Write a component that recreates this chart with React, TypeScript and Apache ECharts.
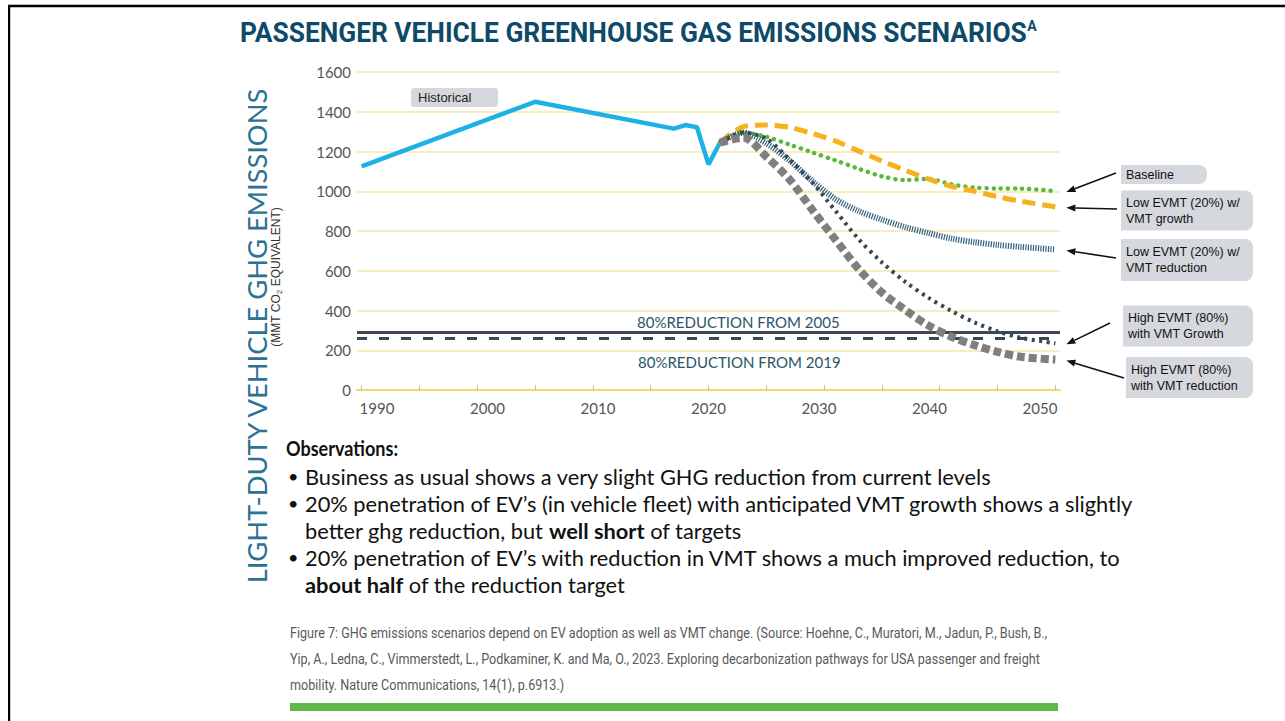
import React, { useEffect, useRef } from "react";
import * as echarts from "echarts";

// ---------- DATA ----------
const HIST_YEARS = [1990, 2005, 2017, 2018, 2019, 2020, 2021];
const HIST_VALUES = [1125, 1450, 1315, 1333, 1322, 1135, 1245];

const BASE_YEARS = [2021, 2023, 2025, 2027, 2029, 2031, 2033, 2035, 2037, 2039, 2041, 2043, 2045, 2047, 2050];
const BASE_VALUES = [1245, 1294, 1274, 1235, 1195, 1155, 1113, 1075, 1056, 1062, 1035, 1018, 1014, 1013, 1001];

const LOW_GROWTH_YEARS = [2021, 2023, 2025, 2027, 2029, 2031, 2033, 2035, 2037, 2039, 2041, 2043, 2045, 2047, 2050];
const LOW_GROWTH_VALUES = [1245, 1325, 1333, 1322, 1290, 1252, 1202, 1152, 1106, 1062, 1025, 1000, 973, 950, 922];

const LOW_RED_YEARS = [2021, 2023, 2025, 2027, 2029, 2031, 2033, 2035, 2037, 2039, 2041, 2043, 2045, 2047, 2050];
const LOW_RED_VALUES = [1245, 1295, 1241, 1155, 1050, 960, 900, 857, 820, 790, 762, 744, 730, 720, 707];

const HIGH_GROWTH_YEARS = [2021, 2023, 2025, 2027, 2029, 2031, 2033, 2035, 2037, 2039, 2041, 2043, 2045, 2047, 2050];
const HIGH_GROWTH_VALUES = [1245, 1295, 1265, 1160, 1042, 900, 758, 642, 545, 465, 398, 340, 295, 263, 235];

const HIGH_RED_YEARS = [2021, 2023, 2025, 2027, 2029, 2031, 2033, 2035, 2037, 2039, 2041, 2043, 2045, 2047, 2050];
const HIGH_RED_VALUES = [1245, 1270, 1174, 1060, 905, 755, 608, 490, 403, 325, 268, 226, 192, 167, 153];

const TARGET_2005 = 290;
const TARGET_2019 = 262;

const X_LABEL_YEARS = [1990, 2000, 2010, 2020, 2030, 2040, 2050];
const X_TICK_YEARS = [1990, 1995, 2000, 2005, 2010, 2015, 2020, 2025, 2030, 2035, 2040, 2045, 2050];

const SCENARIO_LABELS = [
  "Baseline",
  "Low EVMT (20%) w/\nVMT growth",
  "Low EVMT (20%) w/\nVMT reduction",
  "High EVMT (80%)\nwith VMT Growth",
  "High EVMT (80%)\nwith VMT reduction",
];

const TITLE = "PASSENGER VEHICLE GREENHOUSE GAS EMISSIONS SCENARIOS";
const Y_TITLE = "LIGHT-DUTY VEHICLE GHG EMISSIONS";
const TARGET_LABELS = ["80%REDUCTION FROM 2005", "80%REDUCTION FROM 2019"];

const CAPTION = [
  "Figure 7: GHG emissions scenarios depend on EV adoption as well as VMT change. (Source: Hoehne, C., Muratori, M., Jadun, P., Bush, B.,",
  "Yip, A., Ledna, C., Vimmerstedt, L., Podkaminer, K. and Ma, O., 2023. Exploring decarbonization pathways for USA passenger and freight",
  "mobility. Nature Communications, 14(1), p.6913.)",
];

const zip = (xs: number[], ys: number[]) => xs.map((x, i) => [x, ys[i]]);

const FONT = "Lato, 'Open Sans', sans-serif";
const CALLOUT_FONT = "'Liberation Sans', Arial, sans-serif";

export default function App() {
  const ref = useRef<HTMLDivElement>(null);

  useEffect(() => {
    if (!ref.current) return;
    const chart = echarts.init(ref.current, undefined, { renderer: "svg" });

    const scenarios = [
      { name: SCENARIO_LABELS[0], years: BASE_YEARS, values: BASE_VALUES,
        lineStyle: { color: "#5cb83a", width: 4.5, type: [0.1, 7], cap: "round" } },
      { name: SCENARIO_LABELS[1], years: LOW_GROWTH_YEARS, values: LOW_GROWTH_VALUES,
        lineStyle: { color: "#f5b21c", width: 5, type: [13, 7], cap: "butt" } },
      { name: SCENARIO_LABELS[2], years: LOW_RED_YEARS, values: LOW_RED_VALUES,
        lineStyle: { color: "#33607e", width: 6, type: [1.2, 1.3], cap: "butt" } },
      { name: SCENARIO_LABELS[3], years: HIGH_GROWTH_YEARS, values: HIGH_GROWTH_VALUES,
        lineStyle: { color: "#3a4552", width: 4, type: [3, 4.5], cap: "butt" } },
      { name: SCENARIO_LABELS[4], years: HIGH_RED_YEARS, values: HIGH_RED_VALUES,
        lineStyle: { color: "#7f7f7f", width: 8, type: [8, 4], cap: "butt" } },
    ];

    const option: any = {
      animation: false,
      backgroundColor: "#ffffff",
      grid: { left: 357, top: 72, width: 703, height: 318, containLabel: false },
      xAxis: [
        {
          type: "value",
          min: 1989.6,
          max: 2050.4,
          axisLine: { show: true, lineStyle: { color: "#f0d873", width: 2 } },
          axisTick: {
            show: true, inside: true, length: 5,
            customValues: X_TICK_YEARS,
            lineStyle: { color: "#cdbf8c", width: 1 },
          },
          axisLabel: { show: false },
          splitLine: { show: false },
        },
        {
          type: "value",
          position: "bottom",
          min: 1988.19,
          max: 2051.81,
          axisLine: { show: false },
          axisTick: { show: false },
          splitLine: { show: false },
          axisLabel: {
            show: true,
            customValues: X_LABEL_YEARS,
            margin: 10,
            fontSize: 15,
            fontFamily: FONT,
            color: "#555555",
            formatter: (v: number) => String(v),
          },
        },
      ],
      yAxis: {
        type: "value",
        min: 0,
        max: 1600,
        interval: 200,
        axisLine: { show: false },
        axisTick: { show: false },
        axisLabel: {
          margin: 6, fontSize: 15, fontFamily: FONT, color: "#555555",
          formatter: (v: number) => String(v),
        },
        splitLine: { show: true, lineStyle: { color: "#f6e7a6", width: 1.5 } },
      },
      series: [
        {
          type: "line",
          name: "Historical",
          data: zip(HIST_YEARS, HIST_VALUES),
          symbol: "none",
          lineStyle: { color: "#1db1e4", width: 4.5 },
          z: 2,
          markLine: {
            silent: true,
            symbol: ["none", "none"],
            label: { show: false },
            data: [
              { yAxis: TARGET_2005, lineStyle: { color: "#3e4852", width: 3, type: "solid" } },
              { yAxis: TARGET_2019, lineStyle: { color: "#3e4852", width: 3, type: [10, 12] } },
            ],
          },
        },
        ...scenarios.map((s, i) => ({
          type: "line",
          name: s.name,
          data: zip(s.years, s.values),
          symbol: "none",
          smooth: 0.3,
          lineStyle: s.lineStyle,
          z: 3 + i,
        })),
      ],
    };

    chart.setOption(option);

    // ---------- annotations ----------
    const g: any[] = [];
    // slide frame
    g.push({ id: "frameTopGrey", type: "rect", shape: { x: 8, y: 4, width: 1277, height: 1 }, style: { fill: "#bbbbbb" }, silent: true });
    g.push({ id: "frameTop", type: "rect", shape: { x: 8, y: 5, width: 1277, height: 2.2 }, style: { fill: "#000000" }, silent: true });
    g.push({ id: "frameLeft", type: "rect", shape: { x: 8, y: 5, width: 2.2, height: 716 }, style: { fill: "#000000" }, silent: true });

    // title
    g.push({
      id: "title", type: "text", x: 240, y: 33, scaleX: 0.94,
      style: {
        text: `{t|${TITLE}}{s|A}`,
        textVerticalAlign: "middle",
        rich: {
          t: { fontSize: 28, fontWeight: "bold", fontFamily: "Roboto, sans-serif", fill: "#0d4a68" },
          s: { fontSize: 15, fontWeight: "bold", fontFamily: "Roboto, sans-serif", fill: "#0d4a68", verticalAlign: "top" },
        },
      },
    });

    // y-axis titles
    g.push({
      id: "ytitle", type: "text", x: 257, y: 336, rotation: Math.PI / 2, scaleX: 1.05,
      style: {
        text: Y_TITLE, fontSize: 26, fontWeight: "normal", fontFamily: FONT, fill: "#2c7292",
        textAlign: "center", textVerticalAlign: "middle",
      },
    });
    g.push({
      id: "ysub", type: "text", x: 276, y: 277, rotation: Math.PI / 2,
      style: {
        text: "(MMT CO{sub|2} EQUIVALENT)",
        fontSize: 12, fontFamily: CALLOUT_FONT, fill: "#333333",
        textAlign: "center", textVerticalAlign: "middle",
        rich: { sub: { fontSize: 8, fontFamily: CALLOUT_FONT, fill: "#333333", verticalAlign: "bottom", padding: [6, 0, 0, 0] } },
      },
    });

    // Historical label
    g.push({ id: "histBox", type: "rect", shape: { x: 411, y: 88, width: 87, height: 19, r: 3 }, style: { fill: "#d5d8dc" } });
    g.push({
      id: "histText", type: "text", x: 418, y: 97.5,
      style: { text: "Historical", fontSize: 13, fontFamily: CALLOUT_FONT, fill: "#222222", textVerticalAlign: "middle" },
    });

    // target labels
    g.push({
      id: "t2005", type: "text", x: 637, y: 322,
      style: { text: TARGET_LABELS[0], fontSize: 15, fontFamily: FONT, fill: "#2b5466", textVerticalAlign: "middle" },
    });
    g.push({
      id: "t2019", type: "text", x: 638, y: 362,
      style: { text: TARGET_LABELS[1], fontSize: 15, fontFamily: FONT, fill: "#2b5466", textVerticalAlign: "middle" },
    });

    // callout boxes
    const boxes = [
      { x: 1121, y: 165, w: 86, h: 19, tail: [1116, 173] },
      { x: 1121, y: 190.5, w: 132, h: 40, tail: [1117, 209] },
      { x: 1121, y: 239, w: 132, h: 42, tail: [1116, 258] },
      { x: 1123, y: 305.5, w: 130, h: 41, tail: [1110, 323] },
      { x: 1126, y: 357, w: 127, h: 41, tail: [1124, 378] },
    ];
    boxes.forEach((b, i) => {
      g.push({ id: `box${i}`, type: "rect", shape: { x: b.x, y: b.y, width: b.w, height: b.h, r: [0, 8, 8, 0] }, style: { fill: "#d5d8dc" } });
      g.push({
        id: `boxText${i}`, type: "text", x: b.x + 5, y: b.y + b.h / 2,
        style: {
          text: SCENARIO_LABELS[i], fontSize: 12.5, lineHeight: 16, fontFamily: CALLOUT_FONT,
          fill: "#111111", textVerticalAlign: "middle",
        },
      });
      const s = scenarios[i];
      const last = [s.years[s.years.length - 1], s.values[s.values.length - 1]];
      const p = chart.convertToPixel({ xAxisIndex: 0, yAxisIndex: 0 }, last) as number[];
      const head = [p[0] + 11, p[1] + 1];
      const dx = b.tail[0] - head[0];
      const dy = b.tail[1] - head[1];
      const len = Math.sqrt(dx * dx + dy * dy);
      const ux = dx / len, uy = dy / len;
      const bx = head[0] + ux * 9, by = head[1] + uy * 9;
      g.push({
        id: `arrowLine${i}`, type: "line",
        shape: { x1: b.tail[0], y1: b.tail[1], x2: bx, y2: by },
        style: { stroke: "#111111", lineWidth: 1.6 },
      });
      g.push({
        id: `arrowHead${i}`, type: "polygon",
        shape: { points: [head, [bx - uy * 3.5, by + ux * 3.5], [bx + uy * 3.5, by - ux * 3.5]] },
        style: { fill: "#111111" },
      });
    });

    // observations
    const OBS_FONT = FONT;
    const OBS_SIZE = 21.8;
    g.push({
      id: "obsTitle", type: "text", x: 286, y: 448, scaleX: 0.86,
      style: { text: "Observations:", fontSize: 21, fontWeight: "bold", fontFamily: OBS_FONT, fill: "#111111", textVerticalAlign: "middle" },
    });
    const obsLines = [
      { bullet: true, text: "Business as usual shows a very slight GHG reduction from current levels" },
      { bullet: true, text: "20% penetration of EV\u2019s (in vehicle fleet) with anticipated VMT growth shows a slightly" },
      { bullet: false, text: "better ghg reduction, but {b|well short} of targets" },
      { bullet: true, text: "20% penetration of EV\u2019s with reduction in VMT shows a much improved reduction, to" },
      { bullet: false, text: "{b|about half} of the reduction target" },
    ];
    obsLines.forEach((l, i) => {
      const y = 476 + i * 27;
      if (l.bullet) {
        g.push({
          id: `bul${i}`, type: "text", x: 288, y,
          style: { text: "\u2022", fontSize: 18, fontFamily: OBS_FONT, fill: "#111111", textVerticalAlign: "middle" },
        });
      }
      g.push({
        id: `obs${i}`, type: "text", x: 305, y,
        style: {
          text: l.text, fontSize: OBS_SIZE, fontFamily: OBS_FONT, fill: "#111111", textVerticalAlign: "middle",
          rich: { b: { fontSize: OBS_SIZE, fontWeight: "bold", fontFamily: OBS_FONT, fill: "#111111" } },
        },
      });
    });

    // caption
    CAPTION.forEach((c, i) => {
      g.push({
        id: `cap${i}`, type: "text", x: 290, y: 633 + i * 26, scaleX: 0.9,
        style: { text: c, fontSize: 14, fontFamily: "Roboto, sans-serif", fill: "#5a5a5a", textVerticalAlign: "middle" },
      });
    });
    g.push({ id: "greenBar", type: "rect", shape: { x: 290, y: 703, width: 768, height: 8 }, style: { fill: "#62b846" } });

    chart.setOption({ graphic: g });

    return () => chart.dispose();
  }, []);

  return (
    <div
      ref={ref}
      style={{ position: "absolute", left: 0, top: 0, width: 1285, height: 721, background: "#ffffff" }}
    />
  );
}
